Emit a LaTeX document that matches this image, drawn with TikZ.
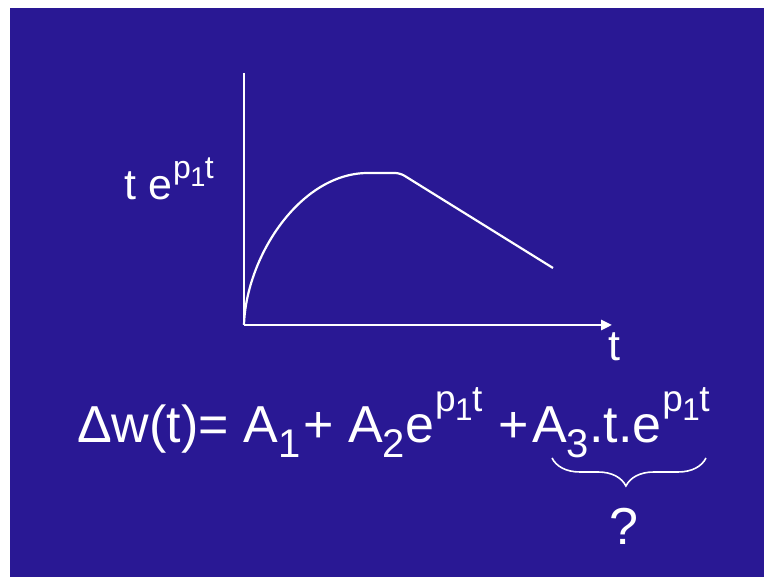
\documentclass[tikz,border=0pt]{standalone}
\usepackage{fontspec}
\setmainfont{Liberation Sans}
\usetikzlibrary{positioning,arrows.meta,decorations.pathreplacing}
\definecolor{slide}{RGB}{41,24,148}
\tikzset{
  ink/.style={white,line width=2.6pt},
  big/.style={text=white,inner sep=0pt,font=\fontsize{52}{52}\selectfont},
  mid/.style={text=white,inner sep=0pt,font=\fontsize{43}{43}\selectfont}
}
% e^{p1 t}: size of the exponent, raise of the exponent
\newcommand{\ept}[2]{e\kern1pt\raisebox{#2}{\fontsize{#1}{#1}\selectfont
  p\kern-0.5pt\raisebox{-0.24em}{\scalebox{0.85}{1}}\kern-0.5pt t}}
\newcommand{\lo}[1]{\raisebox{-15pt}{\fontsize{40}{40}\selectfont #1}}
\begin{document}
\begin{tikzpicture}[x=1pt,y=1pt]
    \useasboundingbox (0,0) rectangle (764,577);
    \fill[slide] (10,0) rectangle (764,569);
    % axes
    \coordinate (O) at (244,252);
    \coordinate (ytop) at (244,504);
    \coordinate (xend) at (612,252);
    \draw[ink] (ytop) -- (O);
    \draw[ink,-{Triangle[length=11pt,width=10pt]}] (O) -- (xend);
    % response
    \draw[ink,line width=2.2pt,rounded corners=5pt]
        (O) .. controls (246,320) and (300,404) .. (373,404)
            -- (400,404) -- (553,309);
    \node[mid, anchor=base west] (ylab) at (124,377){t \ept{32}{21pt}};
    \node[mid, anchor=north] (xlab) at (614,244){t};
    % equation
    \node[big, anchor=base west] (lhs) at (77,134)
        {Δw(t)=\hspace{15pt}A\lo{1}\hspace{3pt}+\hspace{14pt}A\lo{2}\ept{37}{31pt}\hspace{16pt}+};
    \node[big, anchor=base west] (term) at ([xshift=3pt]lhs.base east)
        {A\lo{3}.t.\ept{37}{31pt}};
    \draw[white,line width=1.6pt,decorate,decoration={brace,mirror,amplitude=28pt,aspect=0.48}]
        (552,119) -- (706,119) coordinate[midway] (tip);
    \node[big, anchor=north] (q) at (624,69){?};
\end{tikzpicture}
\end{document}
